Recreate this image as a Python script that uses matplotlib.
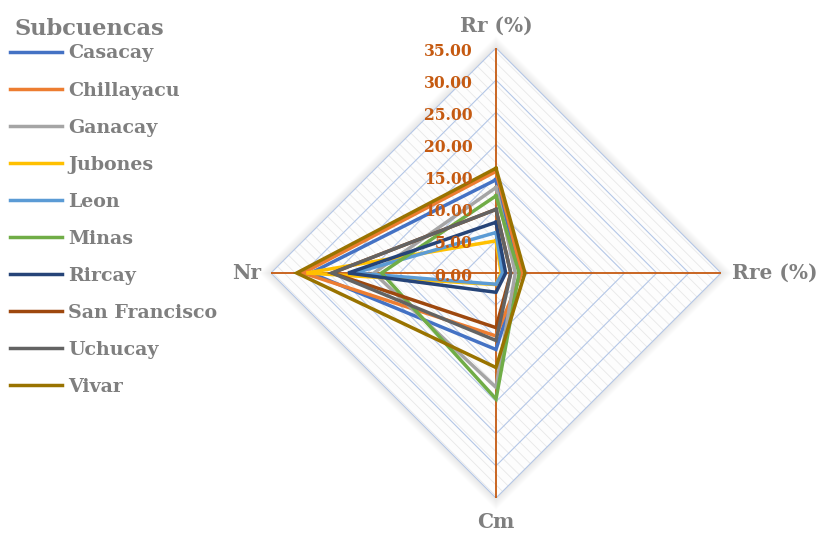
import numpy as np
import matplotlib
matplotlib.use("Agg")
import matplotlib.pyplot as plt

# --- data -------------------------------------------------------------
categories = ["Rr (%)", "Rre (%)", "Cm", "Nr"]
series_names = ["Casacay", "Chillayacu", "Ganacay", "Jubones", "Leon",
                "Minas", "Rircay", "San Francisco", "Uchucay", "Vivar"]
# values in category order: Rr, Rre, Cm, Nr
casacay = [14.5, 3.8, 11.9, 28.8]
chillayacu = [15.8, 4.0, 9.8, 30.0]
ganacay = [13.3, 3.0, 17.8, 19.0]
jubones = [5.0, 0.8, 1.8, 29.5]
leon = [6.3, 1.0, 1.75, 22.0]
minas = [12.0, 3.6, 19.6, 17.8]
rircay = [7.9, 1.5, 3.0, 23.0]
san_francisco = [9.9, 2.3, 8.5, 25.5]
uchucay = [9.9, 2.3, 10.5, 25.5]
vivar = [16.3, 4.5, 14.7, 31.0]
series_values = [casacay, chillayacu, ganacay, jubones, leon,
                 minas, rircay, san_francisco, uchucay, vivar]
radial_ticks = [0, 5, 10, 15, 20, 25, 30, 35]

colors = ["#4472C4", "#ED7D31", "#A5A5A5", "#FFC000", "#5B9BD5",
          "#70AD47", "#264478", "#9E480E", "#636363", "#997300"]
axis_color = "#C55A11"
grid_color = "#B4C7E7"
text_gray = "#7F7F7F"
serif = ["DejaVu Serif"]

W, H, DPI = 818, 533, 100
fig = plt.figure(figsize=(W / DPI, H / DPI), dpi=DPI)
fig.patch.set_facecolor("white")

cx, cy, R = 496, 273, 225
ax = fig.add_axes([(cx - R) / W, (H - cy - R) / H, 2 * R / W, 2 * R / H],
                  projection="polar")
ax.set_theta_offset(np.pi / 2)
ax.set_theta_direction(-1)
rmax = radial_ticks[-1]
ax.set_ylim(0, rmax)
ax.grid(False)
ax.spines["polar"].set_visible(False)
ax.set_xticks([])
ax.set_yticks([])
ax.patch.set_alpha(0)

n = len(categories)
theta = np.arange(n) * 2 * np.pi / n
theta_closed = np.append(theta, theta[0])

# soft shadow around the plot area
for k in range(12):
    ax.fill(theta_closed, [rmax + 0.12 + 0.16 * k] * (n + 1), color="#000000",
            alpha=0.009, lw=0, zorder=0, clip_on=False)

# patterned plot-area background
plt.rcParams["hatch.linewidth"] = 0.6
ax.fill(theta_closed, [rmax] * (n + 1), facecolor="#FDFDFD", edgecolor="#E8E8E8",
        hatch="\\\\\\", lw=0, zorder=0.5)

# diamond gridlines
for r in radial_ticks[1:]:
    ax.plot(theta_closed, [r] * (n + 1), color=grid_color, lw=0.8, zorder=1)

# spokes
for t in theta:
    ax.plot([t, t], [0, rmax], color=axis_color, lw=1.3, zorder=1.5)

# radial tick labels along the first spoke
for v in radial_ticks:
    ax.annotate(f"{v:.2f}", xy=(0, v), xytext=(-17, -2.2),
                textcoords="offset points", ha="right", va="center",
                color=axis_color, fontsize=11.2, fontweight="bold",
                family=serif, zorder=5)

# category labels
label_offsets = [(0, 16, "center", "center"), (8, 0, "left", "center"),
                 (0, -17, "center", "center"), (-7, 0, "right", "center")]
for t, lab, (dx, dy, ha, va) in zip(theta, categories, label_offsets):
    ax.annotate(lab, xy=(t, rmax), xytext=(dx, dy), textcoords="offset points",
                ha=ha, va=va, color=text_gray, fontsize=14.5,
                fontweight="bold", family=serif, annotation_clip=False)

# series
handles = []
for i, (name, vals, c) in enumerate(zip(series_names, series_values, colors)):
    v = np.append(vals, vals[0])
    (ln,) = ax.plot(theta_closed, v, color=c, lw=2.5, label=name,
                    zorder=3 + i * 0.1, solid_joinstyle="miter")
    handles.append(ln)

fig.text(14 / W, 1 - 29 / H, "Subcuencas", ha="left", va="center",
         color=text_gray, fontsize=16.2, fontweight="bold", family=serif)
fig.legend(handles=handles, loc="upper left",
           bbox_to_anchor=(10 / W, 1 - 44.5 / H), frameon=False,
           prop={"family": serif, "weight": "bold", "size": 13.7},
           labelcolor=text_gray, handlelength=2.75, handletextpad=0.32,
           labelspacing=1.0, borderaxespad=0, borderpad=0)

fig.savefig("out.png", dpi=DPI)
